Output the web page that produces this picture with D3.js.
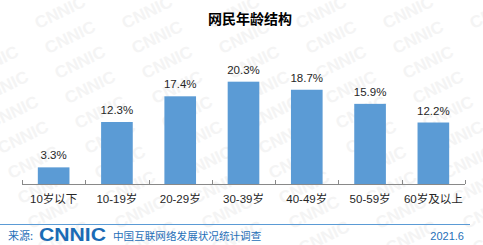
<!DOCTYPE html>
<html>
<head>
<meta charset="utf-8">
<script src="https://cdn.jsdelivr.net/npm/d3@7"></script>
<style>
  body { margin: 0; background: #fff; }
  svg { display: block; }
</style>
</head>
<body>
<div id="vis"></div>
<script>
// age groups and share of netizens (%)
var categories = ['10岁以下', '10-19岁', '20-29岁', '30-39岁', '40-49岁', '50-59岁', '60岁及以上'];
var values = [3.3, 12.3, 17.4, 20.3, 18.7, 15.9, 12.2];
var valueLabels = ['3.3%', '12.3%', '17.4%', '20.3%', '18.7%', '15.9%', '12.2%'];

var width = 483, height = 245;
var cjk = '"Microsoft YaHei", "Noto Sans CJK SC", sans-serif';
var latin = 'Arial, "Liberation Sans", "Noto Sans CJK SC", sans-serif';

var svg = d3.select('#vis')
	.append('svg')
	.attr('width', width)
	.attr('height', height);

drawWatermark(svg);

var x = d3.scaleBand()
	.domain(categories)
	.range([22, 465])
	.paddingInner(0.5)
	.paddingOuter(0.25);

var y = d3.scaleLinear()
	.domain([0, 25])
	.range([184, 58]);

// title
svg.append('text')
	.attr('x', 250)
	.attr('y', 24)
	.attr('text-anchor', 'middle')
	.style('font-family', cjk)
	.style('font-size', '14px')
	.style('font-weight', 'bold')
	.style('fill', '#000')
	.text('网民年龄结构');

// bars
svg.append('g')
	.selectAll('rect')
	.data(values)
	.enter()
	.append('rect')
	.attr('x', function(d, i) { return x(categories[i]); })
	.attr('y', function(d) { return y(d); })
	.attr('width', x.bandwidth())
	.attr('height', function(d) { return y(0) - y(d); })
	.style('fill', '#5b9bd5');

// value labels
svg.append('g')
	.selectAll('text')
	.data(values)
	.enter()
	.append('text')
	.attr('x', function(d, i) { return x(categories[i]) + x.bandwidth() / 2; })
	.attr('y', function(d) { return y(d) - 8; })
	.attr('text-anchor', 'middle')
	.style('font-family', latin)
	.style('font-size', '11.5px')
	.style('fill', '#262626')
	.text(function(d, i) { return valueLabels[i]; });

// axis line with inward ticks at band edges
var axis = svg.append('g');
axis.append('line')
	.attr('x1', x.range()[0]).attr('x2', x.range()[1])
	.attr('y1', y(0) + 0.5).attr('y2', y(0) + 0.5)
	.style('stroke', '#898989');
var edges = categories.map(function(c) { return x(c) - x.step() * x.paddingInner() / 2; });
edges.push(x.range()[1]);
axis.selectAll('.tick')
	.data(edges)
	.enter()
	.append('line')
	.attr('x1', function(d) { return Math.round(d) + 0.5; })
	.attr('x2', function(d) { return Math.round(d) + 0.5; })
	.attr('y1', y(0) - 4)
	.attr('y2', y(0))
	.style('stroke', '#898989');

// category labels
svg.append('g')
	.selectAll('text')
	.data(categories)
	.enter()
	.append('text')
	.attr('x', function(d) { return x(d) + x.bandwidth() / 2; })
	.attr('y', 203)
	.attr('text-anchor', 'middle')
	.style('font-family', latin)
	.style('font-size', '11.5px')
	.style('fill', '#262626')
	.text(function(d) { return d; });

drawFooter(svg);

// Faint repeated CNNIC watermark, only the copies that touch the picture
function drawWatermark(svg) {
	var g = svg.append('g')
		.style('font-family', 'Arial, "Liberation Sans", sans-serif')
		.style('font-weight', 'bold')
		.style('font-size', '17px')
		.style('fill', '#f4f4f4');
	for (var row = 0; row < 10; row++) {
		for (var col = -1; col < 6; col++) {
			var cx = col * 87 + row * 10 + 60;
			var cy = row * 25 + 12;
			if (cx < -15 || cx > width + 15) continue;
			g.append('text')
				.attr('transform', 'translate(' + cx + ',' + cy + ') rotate(-26)')
				.attr('text-anchor', 'middle')
				.attr('dy', '0.35em')
				.attr('textLength', 54)
				.attr('lengthAdjust', 'spacingAndGlyphs')
				.text('CNNIC');
		}
	}
}

// Source line at the bottom
function drawFooter(svg) {
	svg.append('line')
		.attr('x1', 0).attr('x2', 470)
		.attr('y1', 224.5).attr('y2', 224.5)
		.style('stroke', '#5b9bd5');

	svg.append('text')
		.attr('x', 8).attr('y', 240)
		.style('font-family', cjk)
		.style('font-size', '11px')
		.style('fill', '#1f6fb8')
		.text('来源:');

	svg.append('text')
		.attr('x', 39).attr('y', 241)
		.attr('textLength', 67)
		.attr('lengthAdjust', 'spacingAndGlyphs')
		.style('font-family', 'Arial, "Liberation Sans", sans-serif')
		.style('font-size', '18px')
		.style('font-weight', 'bold')
		.style('fill', '#1a6bb5')
		.text('CNNIC');

	svg.append('text')
		.attr('x', 113).attr('y', 240)
		.style('font-family', cjk)
		.style('font-size', '10.6px')
		.style('fill', '#1f6fb8')
		.text('中国互联网络发展状况统计调查');

	svg.append('text')
		.attr('x', 464).attr('y', 240)
		.attr('text-anchor', 'end')
		.style('font-family', latin)
		.style('font-size', '11px')
		.style('fill', '#1f6fb8')
		.text('2021.6');
}
</script>
</body>
</html>
